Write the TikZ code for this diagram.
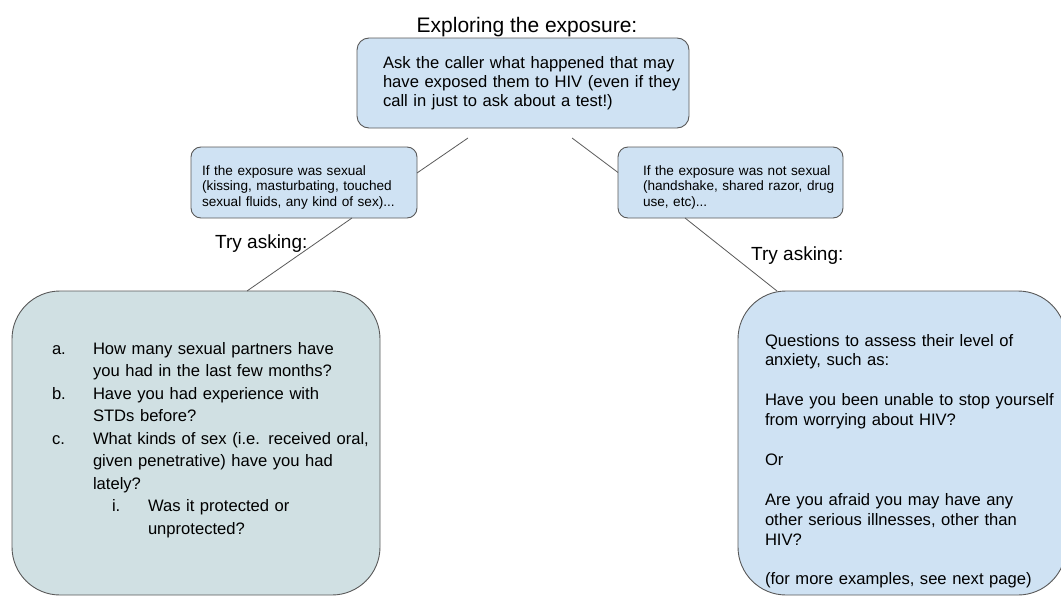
\documentclass[tikz,border=0pt]{standalone}
\usepackage{fontspec}
\setmainfont{Liberation Sans}
\definecolor{boxblue}{HTML}{CFE2F3}
\definecolor{boxcyan}{HTML}{D0E0E3}
\definecolor{edgegrey}{HTML}{595959}
\begin{document}
\begin{tikzpicture}[x=1pt,y=-1pt,
  box/.style={draw=edgegrey, line width=0.9pt, inner sep=0pt, outer sep=0pt, anchor=north west},
  txt/.style={inner sep=0pt, outer sep=0pt, anchor=base west, text width=420pt, align=left},
  conn/.style={draw=edgegrey, line width=0.8pt}]
\useasboundingbox (0,0) rectangle (1061,597);

% boxes
\node[box, fill=boxblue, rounded corners=12pt, minimum width=332pt, minimum height=90pt] (top) at (357,38) {};
\node[box, fill=boxblue, rounded corners=10pt, minimum width=226pt, minimum height=71pt] (sex) at (191,147) {};
\node[box, fill=boxblue, rounded corners=10pt, minimum width=225pt, minimum height=71pt] (nonsex) at (618,147) {};
\node[box, fill=boxcyan, rounded corners=48pt, minimum width=368pt, minimum height=304pt] (qleft) at (12,291) {};
\node[box, fill=boxblue, rounded corners=48pt, minimum width=328pt, minimum height=304pt] (qright) at (738,291) {};

% title and labels
\node[inner sep=0pt, anchor=base, font=\fontsize{21}{24}\selectfont] (title) at (527,32) {Exploring the exposure:};
\node[txt, font=\fontsize{16.6}{19}\selectfont] (toptext) at (383,68.5) {Ask the caller what happened that may\\have exposed them to HIV (even if they\\call in just to ask about a test!)};
\node[txt, font=\fontsize{13.6}{15.5}\selectfont] (sextext) at (202,175) {If the exposure was sexual\\(kissing, masturbating, touched\\sexual fluids, any kind of sex)...};
\node[txt, font=\fontsize{13.6}{15.5}\selectfont] (nonsextext) at (643,175) {If the exposure was not sexual\\(handshake, shared razor, drug\\use, etc)...};
\node[inner sep=0pt, anchor=base west, font=\fontsize{19}{22}\selectfont] (try1) at (215,248) {Try asking:};
\node[inner sep=0pt, anchor=base west, font=\fontsize{19}{22}\selectfont] (try2) at (751,260) {Try asking:};

% left list
\node[txt, font=\fontsize{16.6}{22.5}\selectfont] (labels) at (52,354) {a.\\[22.5pt]b.\\[22.5pt]c.};
\node[txt, font=\fontsize{16.6}{22.5}\selectfont] (items) at (93,354) {How many sexual partners have\\you had in the last few months?\\Have you had experience with\\STDs before?\\What kinds of sex (i.e. received oral,\\given penetrative) have you had\\lately?};
\node[txt, font=\fontsize{16.6}{22.5}\selectfont] (sublabel) at (112,511.5) {i.};
\node[txt, font=\fontsize{16.6}{22.5}\selectfont] (subitem) at (148,511.5) {Was it protected or\\unprotected?};

% right text
\node[txt, font=\fontsize{16.6}{19.9}\selectfont] (anx) at (765,346) {Questions to assess their level of\\anxiety, such as:\\[19.9pt]Have you been unable to stop yourself\\from worrying about HIV?\\[19.9pt]Or\\[19.9pt]Are you afraid you may have any\\other serious illnesses, other than\\HIV?\\[19.9pt](for more examples, see next page)};

% connectors
\coordinate (c1) at (468,138);
\coordinate (c2) at (572,138);
\draw[conn] (c1) -- ([yshift=9.5pt]sex.east);
\draw[conn] (c2) -- ([yshift=10pt]nonsex.west);
\draw[conn] ([xshift=48pt]sex.south) -- ([xshift=51pt]qleft.north);
\draw[conn] ([xshift=-45.5pt]nonsex.south) -- ([xshift=-125pt]qright.north);
\end{tikzpicture}
\end{document}
